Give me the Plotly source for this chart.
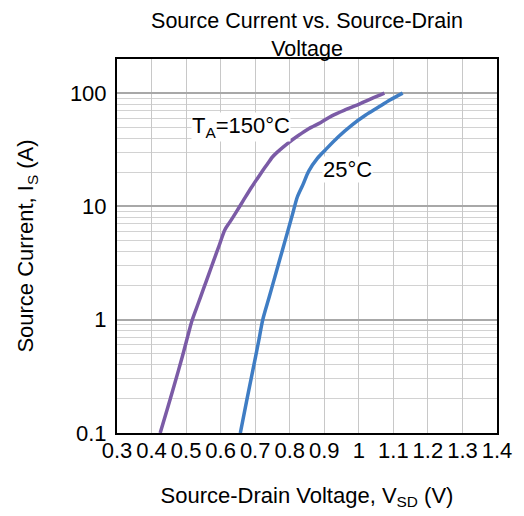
import plotly.graph_objects as go

# 150 °C curve: source-drain voltage (V) vs source current (A)
v_150 = [0.425, 0.445, 0.465, 0.489, 0.505, 0.517, 0.535, 0.550, 0.565, 0.579, 0.596, 0.612,
         0.627, 0.645, 0.665, 0.689, 0.705, 0.720, 0.735, 0.750, 0.765, 0.780, 0.798, 0.825,
         0.855, 0.890, 0.922, 0.960, 0.998, 1.035, 1.074]
i_150 = [0.1, 0.16, 0.26, 0.47, 0.72, 0.98, 1.39, 1.86, 2.49, 3.27, 4.54, 6.2,
         7.3, 8.9, 11.2, 14.7, 17.4, 20.3, 23.6, 27.3, 30.3, 33.2, 36.8, 42.2,
         48.4, 55, 63, 71, 79, 89, 100]

# 25 °C curve
v_25 = [0.657, 0.675, 0.693, 0.710, 0.722, 0.741, 0.760, 0.779, 0.795, 0.808, 0.822, 0.838,
        0.855, 0.880, 0.903, 0.940, 0.979, 1.020, 1.055, 1.090, 1.127]
i_25 = [0.1, 0.19, 0.355, 0.645, 1.0, 1.60, 2.57, 4.13, 6.14, 8.5, 12.1, 15.5,
        20.5, 26.5, 31.5, 41, 52, 64, 74.5, 87, 100]

x_ticks = [0.3, 0.4, 0.5, 0.6, 0.7, 0.8, 0.9, 1.0, 1.1, 1.2, 1.3, 1.4]
x_tick_labels = ["0.3", "0.4", "0.5", "0.6", "0.7", "0.8", "0.9", "1", "1.1", "1.2", "1.3", "1.4"]
y_ticks = [0.1, 1, 10, 100]
y_tick_labels = ["0.1", "1", "10", "100"]
y_minor = [m * d for d in (0.1, 1, 10) for m in range(2, 10)]

FONT = "Liberation Sans, Arial, sans-serif"

fig = go.Figure()
fig.add_trace(go.Scatter(x=v_150, y=i_150, mode="lines",
                         line=dict(color="#7B5BA6", width=3.5, shape="spline", smoothing=0.8),
                         showlegend=False, hoverinfo="skip"))
fig.add_trace(go.Scatter(x=v_25, y=i_25, mode="lines",
                         line=dict(color="#3F7DC4", width=3.5, shape="spline", smoothing=0.8),
                         showlegend=False, hoverinfo="skip"))

fig.add_annotation(x=0.658, y=1.703, xref="x", yref="y",
                   text="T<sub>A</sub>=150°C", showarrow=False,
                   font=dict(family=FONT, size=22, color="black"),
                   bgcolor="white", borderpad=0)
fig.add_annotation(x=0.967, y=1.323, xref="x", yref="y",
                   text="25°C", showarrow=False,
                   font=dict(family=FONT, size=22, color="black"),
                   bgcolor="white", borderpad=0)

fig.update_layout(
    width=516, height=508,
    margin=dict(l=109, r=25, t=51, b=76),
    paper_bgcolor="white", plot_bgcolor="white",
    font=dict(family=FONT, color="black", size=22),
    title=dict(text="Source Current vs. Source-Drain<br>Voltage",
               x=0.5, xref="paper", xanchor="center",
               y=0.961, yref="container", yanchor="top",
               font=dict(family=FONT, size=21.5, color="black")),
    xaxis=dict(range=[0.3, 1.4], tickvals=x_ticks, ticktext=x_tick_labels,
               showgrid=True, gridcolor="#c8c8c8", gridwidth=1,
               showline=True, linecolor="black", linewidth=2, mirror=True,
               ticks="", tickfont=dict(size=22), zeroline=False,
               ticklabelstandoff=-3,
               title=dict(text="Source-Drain Voltage, V<sub>SD</sub> (V)",
                          font=dict(size=22), standoff=25)),
    yaxis=dict(type="log", range=[-1, 2.301], tickvals=y_ticks, ticktext=y_tick_labels,
               showgrid=True, gridcolor="#a8a8a8", gridwidth=1.5,
               minor=dict(tickvals=y_minor, showgrid=True, gridcolor="#d2d2d2", gridwidth=1, ticks=""),
               showline=True, linecolor="black", linewidth=2, mirror=True,
               ticks="", tickfont=dict(size=22), zeroline=False,
               ticklabelstandoff=4,
               title=dict(text="Source Current, I<sub>S</sub> (A)",
                          font=dict(size=22), standoff=30)),
)

fig.write_html("out.html")
